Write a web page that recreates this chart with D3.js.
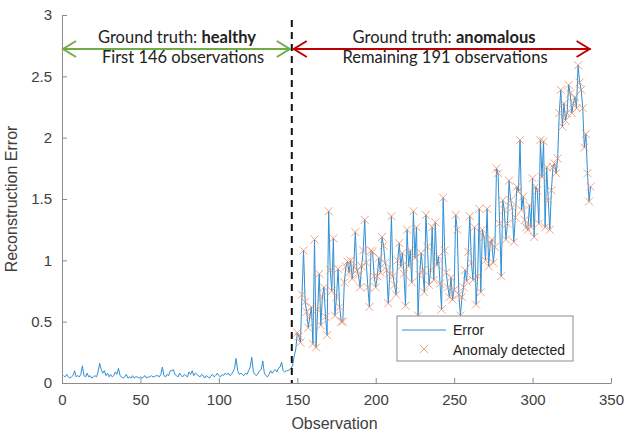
<!DOCTYPE html>
<html>
<head>
<meta charset="utf-8">
<script src="https://cdn.jsdelivr.net/npm/d3@7"></script>
<style>
  body { margin: 0; background: #fff; }
  .axis text { font-family: "Liberation Sans", Arial, sans-serif; font-size: 15px; fill: #404040; }
  .axis path, .axis line { stroke: #8c8c8c; }
  .note { font-family: Lato, "Open Sans", sans-serif; font-size: 16.5px; fill: #222; }
</style>
</head>
<body>
<div id="chart"></div>
<script>
// Set Up Space
var svgWidth = 624;
var svgHeight = 434;
var margin = { top: 15, right: 13, bottom: 51, left: 62 };
var width = svgWidth - margin.left - margin.right;
var height = svgHeight - margin.top - margin.bottom;

// Data
var healthyErr = [
  0.06,0.05,0.07,0.05,0.04,0.05,0.06,0.10,0.05,0.06,
  0.05,0.07,0.14,0.06,0.05,0.08,0.05,0.06,0.04,0.05,
  0.06,0.05,0.09,0.16,0.11,0.08,0.10,0.06,0.08,0.05,
  0.07,0.05,0.06,0.09,0.07,0.12,0.06,0.05,0.04,0.05,
  0.07,0.04,0.05,0.04,0.06,0.04,0.05,0.05,0.04,0.05,
  0.04,0.05,0.06,0.04,0.05,0.05,0.06,0.05,0.05,0.06,
  0.06,0.05,0.07,0.13,0.06,0.05,0.07,0.06,0.10,0.10,
  0.11,0.07,0.06,0.05,0.08,0.06,0.05,0.07,0.06,0.05,
  0.09,0.07,0.10,0.06,0.08,0.07,0.06,0.05,0.07,0.06,
  0.04,0.06,0.05,0.04,0.06,0.07,0.05,0.06,0.08,0.06,
  0.05,0.07,0.06,0.08,0.07,0.08,0.06,0.07,0.09,0.12,
  0.20,0.10,0.07,0.08,0.07,0.06,0.08,0.07,0.10,0.13,
  0.21,0.09,0.07,0.06,0.08,0.10,0.11,0.18,0.08,0.06,
  0.05,0.07,0.10,0.08,0.10,0.11,0.09,0.12,0.13,0.17,
  0.10,0.09,0.10,0.10,0.11,0.12
];
var anomalousErr = [
  0.14,0.22,0.27,0.41,0.38,0.33,0.72,1.08,0.66,0.58,
  0.45,0.54,0.62,0.32,1.17,0.29,0.60,0.89,0.47,0.70,
  0.78,0.54,0.39,1.40,0.92,0.75,1.18,0.55,0.70,0.93,
  0.62,0.50,0.50,0.82,0.95,0.99,0.90,1.00,0.85,0.95,
  1.23,0.92,0.88,0.78,0.95,1.08,1.33,0.98,0.78,0.62,
  1.08,1.07,0.87,0.78,0.87,1.02,0.90,1.19,1.12,0.98,
  0.92,0.65,0.89,1.36,0.87,0.80,0.72,1.00,1.14,0.95,
  1.06,0.89,0.63,1.25,0.95,1.08,0.82,1.40,1.02,1.27,
  0.55,0.88,1.06,0.92,0.74,1.37,1.11,0.80,0.92,1.27,
  0.84,1.31,0.96,1.03,0.81,0.60,1.51,1.08,0.90,0.78,
  0.70,0.86,0.68,0.76,1.37,1.25,0.72,0.55,0.70,0.78,
  0.92,0.83,1.07,1.36,0.98,0.84,1.27,0.64,0.87,1.42,
  0.74,1.25,1.19,1.00,1.42,0.95,1.14,1.17,0.98,1.11,
  1.75,1.71,1.30,0.87,1.49,1.41,1.17,1.30,1.65,1.49,
  1.43,1.15,1.35,1.60,1.56,1.98,1.41,1.52,1.33,1.27,
  1.25,1.45,1.27,1.67,1.19,1.60,1.57,1.30,1.98,1.68,
  1.97,1.27,1.76,1.49,1.25,1.57,1.76,1.79,1.71,1.83,
  2.20,2.39,2.09,2.28,2.14,2.20,2.43,2.36,2.20,2.28,
  2.33,2.24,2.59,2.45,2.39,2.24,1.92,2.03,1.71,1.48,
  1.60
];
var firstDetected = 150;   // markers from this observation on
var boundary = 146.5;      // dashed split line
var xTicks = [0, 50, 100, 150, 200, 250, 300, 350];
var yTicks = [0, 0.5, 1, 1.5, 2, 2.5, 3];

var errors = healthyErr.concat(anomalousErr).map(function(v, i) {
  return { obs: i + 1, err: v };
});
var detected = errors.filter(function(d) { return d.obs >= firstDetected; });

// Create SVG Wrapper
var svg = d3.select("#chart")
  .append("svg")
  .attr("width", svgWidth)
  .attr("height", svgHeight);

var chartGroup = svg.append("g")
  .attr("transform", `translate(${margin.left}, ${margin.top})`);

// Scaling
var xScale = d3.scaleLinear().domain([0, 350]).range([0, width]);
var yScale = d3.scaleLinear().domain([0, 3]).range([height, 0]);

// Axes (MATLAB style, ticks inside)
var bottomAxis = d3.axisBottom(xScale).tickValues(xTicks).tickSizeInner(-5).tickSizeOuter(0).tickPadding(11);
var leftAxis = d3.axisLeft(yScale).tickValues(yTicks).tickSizeInner(-5).tickSizeOuter(0).tickPadding(10)
  .tickFormat(d3.format("~g"));

chartGroup.append("g")
  .attr("class", "axis")
  .attr("transform", `translate(0, ${height})`)
  .call(bottomAxis);

chartGroup.append("g")
  .attr("class", "axis")
  .call(leftAxis);

// Error line
var line = d3.line()
  .x(d => xScale(d.obs))
  .y(d => yScale(d.err));

chartGroup.append("path")
  .datum(errors)
  .attr("fill", "none")
  .attr("stroke", "#2f8fd3")
  .attr("stroke-width", 1)
  .attr("d", line);

// Anomaly markers
function cross(g, x, y, s) {
  g.append("path")
    .attr("d", `M${x - s},${y - s}L${x + s},${y + s}M${x - s},${y + s}L${x + s},${y - s}`)
    .attr("stroke", "#e8875e")
    .attr("stroke-opacity", 0.75)
    .attr("stroke-width", 1);
}
var markGroup = chartGroup.append("g");
detected.forEach(function(d) {
  cross(markGroup, xScale(d.obs), yScale(d.err), 4);
});

// Dashed boundary
chartGroup.append("line")
  .attr("x1", xScale(boundary)).attr("x2", xScale(boundary))
  .attr("y1", 5).attr("y2", height)
  .attr("stroke", "#111")
  .attr("stroke-width", 2)
  .attr("stroke-dasharray", "7,5");

// Arrows
function arrow(x1, x2, y, color) {
  var g = chartGroup.append("g").attr("stroke", color).attr("stroke-width", 2).attr("fill", "none");
  g.append("line").attr("x1", x1).attr("x2", x2).attr("y1", y).attr("y2", y);
  g.append("path").attr("d", `M${x1 + 14},${y - 8}L${x1 + 1},${y}L${x1 + 14},${y + 8}`);
  g.append("path").attr("d", `M${x2 - 14},${y - 8}L${x2 - 1},${y}L${x2 - 14},${y + 8}`);
}
var arrowY = 34;
arrow(xScale(0), xScale(boundary) - 1, arrowY, "#70ad47");
arrow(xScale(boundary) + 1, xScale(337), arrowY, "#c00000");

function note(x, y, plain, bold) {
  var t = chartGroup.append("text")
    .attr("class", "note")
    .attr("x", x).attr("y", y)
    .attr("text-anchor", "middle");
  t.append("tspan").text(plain);
  if (bold) t.append("tspan").attr("font-weight", "bold").text(bold);
}
note(115, 28, "Ground truth: ", "healthy");
note(121, 48, "First 146 observations");
note(382, 28, "Ground truth: ", "anomalous");
note(383, 48, "Remaining 191 observations");

// Legend
var legend = chartGroup.append("g").attr("transform", `translate(${335}, ${301})`);
legend.append("rect")
  .attr("width", 176).attr("height", 45)
  .attr("fill", "#fff").attr("stroke", "#8c8c8c").attr("stroke-width", 1);
legend.append("line")
  .attr("x1", 5).attr("x2", 49).attr("y1", 14).attr("y2", 14)
  .attr("stroke", "#2f8fd3").attr("stroke-width", 1);
cross(legend, 27, 33, 4);
legend.append("text").attr("x", 56).attr("y", 19)
  .attr("font-family", "Liberation Sans, Arial, sans-serif").attr("font-size", 14).attr("fill", "#222")
  .text("Error");
legend.append("text").attr("x", 56).attr("y", 39)
  .attr("font-family", "Liberation Sans, Arial, sans-serif").attr("font-size", 14).attr("fill", "#222")
  .text("Anomaly detected");

// Create Labels
chartGroup.append("text")
  .attr("transform", "rotate(-90)")
  .attr("y", -45)
  .attr("x", -height / 2)
  .attr("text-anchor", "middle")
  .attr("font-family", "Liberation Sans, Arial, sans-serif")
  .attr("font-size", 16)
  .attr("fill", "#404040")
  .text("Reconstruction Error");

chartGroup.append("text")
  .attr("transform", `translate(${width / 2 - 2}, ${height + 46})`)
  .attr("text-anchor", "middle")
  .attr("font-family", "Liberation Sans, Arial, sans-serif")
  .attr("font-size", 16)
  .attr("fill", "#404040")
  .text("Observation");
</script>
</body>
</html>
